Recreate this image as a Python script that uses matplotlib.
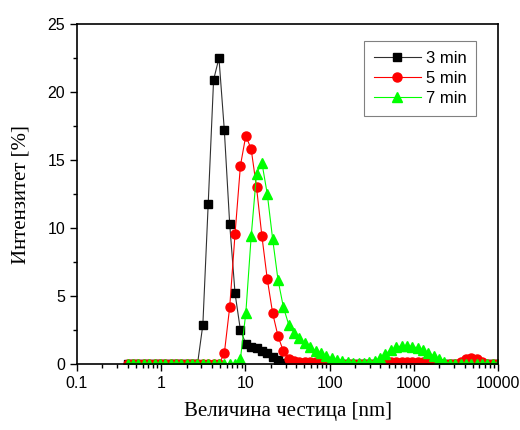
import matplotlib
matplotlib.use("Agg")
import matplotlib.pyplot as plt
import matplotlib.ticker as ticker

# DLS size bins [nm]
sizes = [0.4, 0.4632, 0.5365, 0.6213, 0.7195, 0.8332, 0.9649, 1.117, 1.294, 1.499,
         1.736, 2.010, 2.328, 2.696, 3.122, 3.615, 4.187, 4.849, 5.615, 6.503,
         7.531, 8.721, 10.10, 11.70, 13.54, 15.69, 18.17, 21.04, 24.36, 28.21,
         32.67, 37.84, 43.82, 50.75, 58.77, 68.06, 78.82, 91.28, 105.7, 122.4,
         141.8, 164.2, 190.1, 220.2, 255.0, 295.3, 342.0, 396.1, 458.7, 531.2,
         615.1, 712.4, 825.0, 955.4, 1106, 1281, 1484, 1718, 1990, 2305,
         2669, 3091, 3580, 4145, 4801, 5560, 6439, 7456, 8635, 10000]

int_3min = [0]*14 + [2.9, 11.8, 20.9, 22.5, 17.2, 10.3, 5.2, 2.5, 1.5, 1.3,
                     1.2, 1.0, 0.8, 0.5, 0.3, 0.1] + [0]*40

int_5min = [0]*18 + [0.8, 4.2, 9.6, 14.6, 16.8, 15.8, 13.0, 9.4, 6.25, 3.75,
                     2.06, 0.96, 0.35, 0.2, 0.15, 0.15, 0.15, 0.15, 0.1, 0.05] \
           + [0]*10 + [0.1] + [0.15]*9 + [0.1, 0, 0, 0, 0.15, 0.35, 0.45, 0.4, 0.15, 0, 0, 0]

int_7min = [0]*21 + [0.4, 3.75, 9.4, 14.0, 14.8, 12.5, 9.2, 6.2, 4.2, 2.9,
                     2.3, 1.9, 1.55, 1.25, 1.0, 0.8, 0.6, 0.45, 0.3, 0.2,
                     0.15, 0.1, 0.1, 0.1, 0.15, 0.25, 0.45, 0.75, 1.05, 1.25,
                     1.35, 1.35, 1.3, 1.2, 1.05, 0.85, 0.6, 0.35, 0.15, 0.05] + [0]*9

labels = ["3 min", "5 min", "7 min"]

plt.rcParams["font.family"] = ["Liberation Sans", "DejaVu Sans"]

fig = plt.figure(figsize=(5.2, 4.3), dpi=100)
ax = fig.add_axes([0.148, 0.153, 0.81, 0.791])

ax.plot(sizes, int_3min, color="#303030", linewidth=0.8, marker="s",
        markersize=5.5, markerfacecolor="black", markeredgecolor="black",
        label=labels[0])
ax.plot(sizes, int_5min, color="red", linewidth=0.8, marker="o",
        markersize=6.5, markerfacecolor="red", markeredgecolor="red",
        label=labels[1])
ax.plot(sizes, int_7min, color="#00ff00", linewidth=0.8, marker="^",
        markersize=7, markerfacecolor="#00ff00", markeredgecolor="#00ff00",
        label=labels[2])

ax.set_xscale("log")
ax.set_xlim(0.1, 10000)
ax.set_ylim(0, 25)
ax.xaxis.set_major_formatter(ticker.FuncFormatter(lambda x, _: f"{x:g}"))
ax.xaxis.set_minor_locator(ticker.LogLocator(base=10, subs=range(2, 10), numticks=20))
ax.xaxis.set_minor_formatter(ticker.NullFormatter())
ax.yaxis.set_major_locator(ticker.MultipleLocator(5))
ax.yaxis.set_minor_locator(ticker.MultipleLocator(2.5))

ax.tick_params(which="both", direction="out", top=False, right=False,
               labelsize=11.5, width=1.0)
ax.tick_params(which="major", length=5)
ax.tick_params(which="minor", length=3)
for sp in ax.spines.values():
    sp.set_linewidth(1.2)

ax.set_xlabel("Величина честица [nm]", fontsize=15, family="Liberation Serif",
              labelpad=8)
ax.set_ylabel("Интензитет [%]", fontsize=15, family="Liberation Serif",
              labelpad=12)

leg = ax.legend(loc="upper right", bbox_to_anchor=(0.96, 0.965), fontsize=12,
                handlelength=2.8, fancybox=False, framealpha=1,
                edgecolor="#808080", borderpad=0.6, labelspacing=0.3,
                handletextpad=0.3, borderaxespad=0.3)
leg.get_frame().set_linewidth(0.8)

fig.savefig("out.png", dpi=100)
